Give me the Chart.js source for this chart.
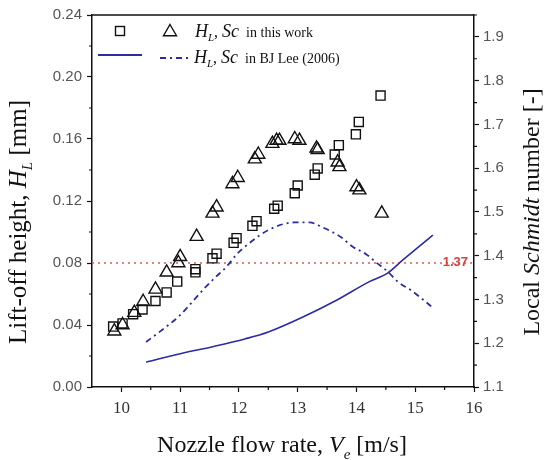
<!DOCTYPE html>
<html lang="en">
<head>
<meta charset="UTF-8" />
<title>Lift-off height and local Schmidt number</title>
<script src="https://cdn.jsdelivr.net/npm/chart.js@4.4.1/dist/chart.umd.min.js"></script>
<style>
  html, body { margin: 0; padding: 0; background: #fff; }
  #wrap { width: 549px; height: 460px; position: relative; }
</style>
</head>
<body>
<div id="wrap"><canvas id="grafico"></canvas></div>
<script>
// H_L in this work (squares)
const squareV = [9.86, 10.02, 10.2, 10.36, 10.58, 10.77, 10.95, 11.26, 11.26, 11.55, 11.62, 11.91, 11.96, 12.23, 12.3, 12.6, 12.66, 12.95, 13.0, 13.29, 13.34, 13.63, 13.7, 13.99, 14.04, 14.41];
const squareH = [0.039, 0.041, 0.047, 0.050, 0.0555, 0.061, 0.068, 0.076, 0.074, 0.083, 0.086, 0.093, 0.096, 0.104, 0.107, 0.115, 0.117, 0.125, 0.130, 0.137, 0.141, 0.150, 0.156, 0.163, 0.171, 0.188];
// Sc in this work (triangles, plotted on the left scale as in the figure)
const triangleV = [9.88, 10.02, 10.22, 10.37, 10.58, 10.77, 10.97, 11.0, 11.28, 11.55, 11.62, 11.89, 11.98, 12.27, 12.33, 12.57, 12.64, 12.69, 12.95, 13.03, 13.32, 13.34, 13.68, 13.71, 14.0, 14.05, 14.43];
const triangleH = [0.036, 0.040, 0.048, 0.055, 0.063, 0.074, 0.080, 0.084, 0.097, 0.112, 0.116, 0.131, 0.135, 0.147, 0.150, 0.157, 0.159, 0.159, 0.160, 0.159, 0.154, 0.153, 0.145, 0.142, 0.129, 0.127, 0.112];
// BJ Lee (2006)
const leeHV = [10.42, 11.0, 11.55, 12.1, 12.5, 13.08, 13.66, 14.22, 14.53, 14.79, 15.3];
const leeH  = [0.016, 0.0215, 0.026, 0.031, 0.0355, 0.045, 0.056, 0.068, 0.0735, 0.082, 0.098];
const leeScV = [10.42, 10.65, 10.99, 11.21, 11.41, 11.58, 11.79, 11.96, 12.15, 12.52, 12.95, 13.2, 13.42, 13.74, 13.93, 14.17, 14.34, 14.53, 14.7, 14.96, 15.13, 15.3];
const leeSc  = [1.203, 1.226, 1.263, 1.295, 1.325, 1.348, 1.375, 1.403, 1.426, 1.46, 1.476, 1.476, 1.465, 1.442, 1.421, 1.403, 1.384, 1.364, 1.341, 1.318, 1.30, 1.281];
// reference level
const refV = [9.5, 16];
const refH = [0.08, 0.08];
const refLabel = '1.37';

// ticks
const xTicks = [10, 11, 12, 13, 14, 15, 16];
const y2Ticks = [1.1, 1.2, 1.3, 1.4, 1.5, 1.6, 1.7, 1.8, 1.9];
const xMinor = [10.5, 11.5, 12.5, 13.5, 14.5, 15.5];
const yMinor = [0.02, 0.06, 0.10, 0.14, 0.18, 0.22];
const y2Minor = [1.15, 1.25, 1.35, 1.45, 1.55, 1.65, 1.75, 1.85, 1.95];

const SERIF = "'Liberation Serif', 'DejaVu Serif', serif";
const SANS = "'Liberation Sans', Arial, sans-serif";
const BLUE = '#2b2ba6';
const RED = '#e05a5a';

const pts = (xs, ys) => xs.map((x, i) => ({ x: x, y: ys[i] }));

// draws a row of text pieces (fonts / sub offsets)
function rich(ctx, parts, x, y, rot, align) {
  ctx.save();
  ctx.translate(x, y);
  ctx.rotate(rot || 0);
  let w = 0;
  parts.forEach(p => { ctx.font = p.f; p.w = ctx.measureText(p.t).width; w += p.w; });
  let cx = align === 'left' ? 0 : -w / 2;
  ctx.textAlign = 'left';
  ctx.textBaseline = 'alphabetic';
  parts.forEach(p => {
    ctx.font = p.f;
    ctx.fillStyle = p.c || '#111';
    ctx.fillText(p.t, cx, p.dy || 0);
    cx += p.w;
  });
  ctx.restore();
}

function square(ctx, x, y, s) {
  ctx.strokeRect(x - s / 2, y - s / 2, s, s);
}
function triangle(ctx, x, y, r) {
  ctx.beginPath();
  ctx.moveTo(x, y - r);
  ctx.lineTo(x + r * 0.866, y + r / 2);
  ctx.lineTo(x - r * 0.866, y + r / 2);
  ctx.closePath();
  ctx.stroke();
}

const decor = {
  id: 'decor',
  afterDraw(chart) {
    const { ctx, chartArea: a, scales } = chart;
    ctx.save();
    ctx.strokeStyle = '#111';
    ctx.lineWidth = 1.5;
    // top frame
    ctx.beginPath();
    ctx.moveTo(a.left, a.top);
    ctx.lineTo(a.right, a.top);
    ctx.stroke();

    // minor ticks
    ctx.lineWidth = 1.2;
    ctx.beginPath();
    xMinor.forEach(v => {
      const px = scales.x.getPixelForValue(v);
      ctx.moveTo(px, a.bottom); ctx.lineTo(px, a.bottom + 3);
    });
    yMinor.forEach(v => {
      const py = scales.y.getPixelForValue(v);
      ctx.moveTo(a.left, py); ctx.lineTo(a.left - 3, py);
    });
    y2Minor.forEach(v => {
      const py = scales.y2.getPixelForValue(v);
      ctx.moveTo(a.right, py); ctx.lineTo(a.right + 3, py);
    });
    ctx.stroke();

    // 1.37 label on the red level
    ctx.font = 'bold 13px ' + SANS;
    ctx.fillStyle = '#d9403a';
    ctx.textAlign = 'right';
    ctx.textBaseline = 'middle';
    ctx.fillText(refLabel, a.right - 6, scales.y.getPixelForValue(refH[0]) - 1);

    // legend
    ctx.strokeStyle = '#111';
    ctx.lineWidth = 1.4;
    square(ctx, 120, 31, 9);
    triangle(ctx, 170, 32, 7.5);
    rich(ctx, [
      { t: 'H', f: 'italic 18px ' + SERIF },
      { t: 'L', f: 'italic 11px ' + SERIF, dy: 4 },
      { t: ', ', f: '16px ' + SERIF },
      { t: 'Sc', f: 'italic 18px ' + SERIF },
      { t: '  in this work', f: '14px ' + SERIF }
    ], 195, 37, 0, 'left');

    ctx.strokeStyle = BLUE;
    ctx.lineWidth = 1.8;
    ctx.beginPath();
    ctx.moveTo(98, 55); ctx.lineTo(142, 55);
    ctx.stroke();
    ctx.setLineDash([6, 4, 2, 4]);
    ctx.beginPath();
    ctx.moveTo(160, 58); ctx.lineTo(192, 58);
    ctx.stroke();
    ctx.setLineDash([]);
    rich(ctx, [
      { t: 'H', f: 'italic 18px ' + SERIF },
      { t: 'L', f: 'italic 11px ' + SERIF, dy: 4 },
      { t: ', ', f: '16px ' + SERIF },
      { t: 'Sc', f: 'italic 18px ' + SERIF },
      { t: '  in BJ Lee (2006)', f: '14px ' + SERIF }
    ], 194, 63, 0, 'left');

    // axis titles
    rich(ctx, [
      { t: 'Lift-off height, ', f: '25px ' + SERIF },
      { t: 'H', f: 'italic 25px ' + SERIF },
      { t: 'L', f: 'italic 15px ' + SERIF, dy: 6 },
      { t: ' [mm]', f: '25px ' + SERIF }
    ], 26, 222, -Math.PI / 2);
    rich(ctx, [
      { t: 'Nozzle flow rate, ', f: '24px ' + SERIF },
      { t: 'V', f: 'italic 24px ' + SERIF },
      { t: 'e', f: 'italic 15px ' + SERIF, dy: 7 },
      { t: ' [m/s]', f: '24px ' + SERIF }
    ], 282, 452, 0);
    rich(ctx, [
      { t: 'Local ', f: '24px ' + SERIF },
      { t: 'Schmidt', f: 'italic 24px ' + SERIF },
      { t: ' number [-]', f: '24px ' + SERIF }
    ], 539, 212, -Math.PI / 2);
    ctx.restore();
  }
};

const axisBase = {
  border: { display: true, color: '#111', width: 1.5 },
  grid: { drawOnChartArea: false, drawTicks: true, tickLength: 5, color: '#111', tickWidth: 1.2 }
};

new Chart(document.getElementById('grafico'), {
  type: 'scatter',
  data: {
    datasets: [
      {
        label: 'H_L this work',
        data: pts(squareV, squareH),
        pointStyle: 'rect',
        pointRadius: 6.4,
        pointBorderWidth: 1.4,
        borderColor: '#111',
        backgroundColor: 'rgba(0,0,0,0)',
        yAxisID: 'y',
        order: 1
      },
      {
        label: 'Sc this work',
        data: pts(triangleV, triangleH),
        pointStyle: 'triangle',
        pointRadius: 7.5,
        pointBorderWidth: 1.4,
        borderColor: '#111',
        backgroundColor: 'rgba(0,0,0,0)',
        yAxisID: 'y',
        order: 2
      },
      {
        label: 'H_L BJ Lee',
        data: pts(leeHV, leeH),
        showLine: true,
        pointRadius: 0,
        borderColor: BLUE,
        borderWidth: 1.6,
        cubicInterpolationMode: 'monotone',
        yAxisID: 'y',
        order: 3
      },
      {
        label: 'Sc BJ Lee',
        data: pts(leeScV, leeSc),
        showLine: true,
        pointRadius: 0,
        borderColor: BLUE,
        borderWidth: 1.8,
        borderDash: [6, 4, 2, 4],
        cubicInterpolationMode: 'monotone',
        yAxisID: 'y2',
        order: 4
      },
      {
        label: 'level',
        data: pts(refV, refH),
        showLine: true,
        pointRadius: 0,
        borderColor: RED,
        borderWidth: 1.5,
        borderDash: [2, 4],
        yAxisID: 'y',
        order: 5
      }
    ]
  },
  options: {
    responsive: true,
    maintainAspectRatio: false,
    animation: false,
    devicePixelRatio: 1,
    layout: { padding: { top: 15, left: 0, right: 0, bottom: 0 } },
    plugins: { legend: { display: false }, tooltip: { enabled: false } },
    scales: {
      x: {
        ...axisBase,
        type: 'linear',
        min: 9.5,
        max: 16,
        afterBuildTicks: s => { s.ticks = xTicks.map(v => ({ value: v })); },
        afterFit: s => { s.height = 73; },
        ticks: { padding: 6, color: '#333', font: { family: SERIF, size: 17 } }
      },
      y: {
        ...axisBase,
        position: 'left',
        min: 0,
        max: 0.24,
        afterFit: s => { s.width = 92; },
        ticks: { stepSize: 0.04, padding: 5, color: '#555', font: { family: SANS, size: 15 },
                 callback: v => v.toFixed(2) }
      },
      y2: {
        ...axisBase,
        position: 'right',
        min: 1.1,
        max: 1.95,
        afterBuildTicks: s => { s.ticks = y2Ticks.map(v => ({ value: v })); },
        afterFit: s => { s.width = 75; },
        ticks: { padding: 4, color: '#555', font: { family: SANS, size: 15 },
                 callback: v => v.toFixed(1) }
      }
    }
  },
  plugins: [decor]
});
</script>
</body>
</html>
